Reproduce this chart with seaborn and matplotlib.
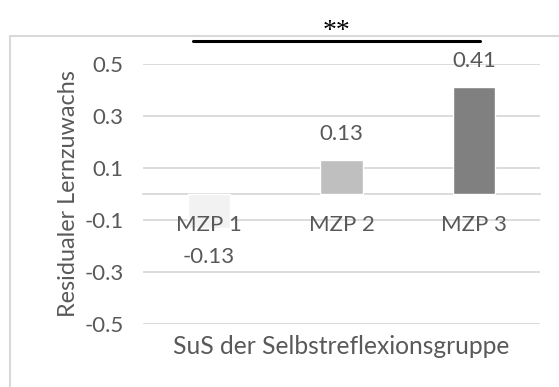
import matplotlib
matplotlib.use('Agg')
import matplotlib.pyplot as plt
import seaborn as sns
from matplotlib.patches import Rectangle

categories = ['MZP 1', 'MZP 2', 'MZP 3']
values = [-0.13, 0.13, 0.41]
bar_colors = ['#f2f2f2', '#bfbfbf', '#808080']
yticks = [-0.5, -0.3, -0.1, 0.1, 0.3, 0.5]
ytick_labels = ['-0.5', '-0.3', '-0.1', '0.1', '0.3', '0.5']

sns.set_style('white')
plt.rcParams['font.family'] = ['Lato', 'DejaVu Sans']
txt = '#595959'
grid = '#d9d9d9'

fig = plt.figure(figsize=(5.59, 3.87), dpi=100)
ax = fig.add_axes([143 / 559, 63 / 387, 397 / 559, 260 / 387])

sns.barplot(x=categories, y=values, hue=categories, palette=bar_colors,
            width=0.32, legend=False, ax=ax, saturation=1, zorder=1)
ax.set_axisbelow(False)

ax.set_ylim(-0.5, 0.5)
ax.set_xlim(-0.5, 2.5)
ax.set_yticks(yticks)
ax.set_yticklabels(ytick_labels)
for y in yticks:
    ax.axhline(y, color=grid, lw=1.3, zorder=0)

for s in ['top', 'right', 'left']:
    ax.spines[s].set_visible(False)
ax.spines['bottom'].set_position(('data', 0))
ax.spines['bottom'].set_color(grid)
ax.spines['bottom'].set_linewidth(1.3)
ax.spines['bottom'].set_zorder(0.5)
ax.tick_params(axis='x', length=0, pad=15, labelsize=16, labelcolor=txt)
ax.tick_params(axis='y', length=0, pad=14, labelsize=16, labelcolor=txt)

# data labels
for cont, v in zip(ax.containers, values):
    ax.bar_label(cont, fmt='%.2f', padding=12 if v > 0 else 14,
                 fontsize=16, color=txt)

ax.set_ylabel('Residualer Lernzuwachs', fontsize=16.8, color=txt, labelpad=4)
ax.set_xlabel('')
fig.text(341 / 559, 1 - 347 / 387, 'SuS der Selbstreflexionsgruppe',
         ha='center', va='center', fontsize=17.7, color=txt)

# significance marker
ax.plot([-0.12, 2.045], [0.588, 0.588], color='black', lw=2.2, clip_on=False)
fig.text(337 / 559, 1 - 38 / 387, '**', ha='center', va='baseline',
         fontsize=20, family='Liberation Serif', color='black')

# chart border
fig.patches.append(Rectangle((10 / 559, -0.1), 1.2, 1 - 36 / 387 + 0.1,
                             transform=fig.transFigure, fill=False,
                             edgecolor=grid, lw=1.5))

fig.savefig('out.png', dpi=100)
